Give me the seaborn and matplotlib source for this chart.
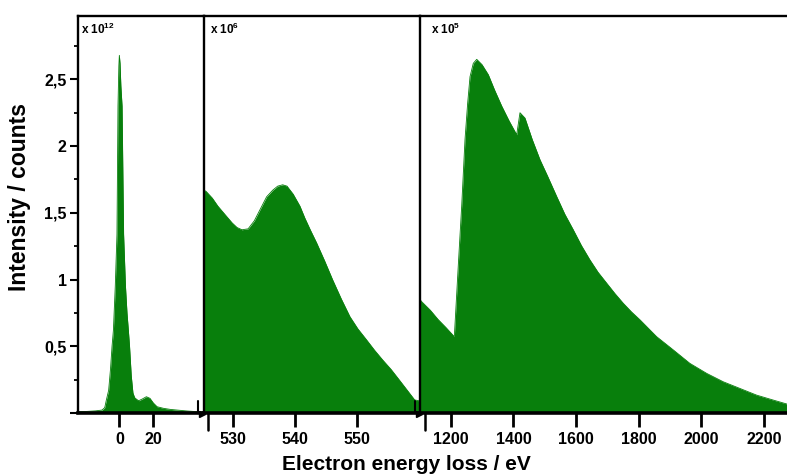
import numpy as np
import pandas as pd
import seaborn as sns
import matplotlib.pyplot as plt
from matplotlib.lines import Line2D
from matplotlib.ticker import MultipleLocator, FuncFormatter

# valores (intensidad en unidades del factor de cada panel)
low_ev = [-24.5, -19, -14, -10.2, -8.6, -7.6, -6.3, -5.2, -4.3, -3.5, -2.4, -1.4, -0.8, -0.3, 0, 0.4,
          0.9, 1.6, 2.5, 3.6, 4.5, 5.3, 6.0, 7.0, 8.0, 9.0, 10.4, 11.4, 13.5, 15.9, 18, 20, 22.2, 26,
          30, 34, 40, 45.7, 49.8]
low_int = [0.010, 0.012, 0.016, 0.022, 0.04, 0.10, 0.17, 0.33, 0.50, 0.62, 0.95, 1.34, 2.30, 2.60, 2.68, 2.62,
           2.45, 2.30, 1.34, 0.95, 0.75, 0.62, 0.50, 0.28, 0.15, 0.115, 0.10, 0.092, 0.105, 0.122, 0.11, 0.075,
           0.047, 0.035, 0.027, 0.022, 0.015, 0.010, 0.008]

ok_ev = [525.25, 525.6, 526.6, 527.5, 528.6, 529.8, 530.6, 531.4, 532.4, 533.4, 534.4, 535.4, 536.4,
         537.2, 538.0, 538.7, 539.7, 540.8, 541.6, 542.5, 543.5, 544.8, 546.1, 547.5, 548.9,
         550.2, 551.6, 552.9, 554.2, 555.6, 556.9, 558.2, 559.4, 560.26]
ok_int = [1.67, 1.66, 1.61, 1.55, 1.49, 1.425, 1.39, 1.373, 1.38, 1.44, 1.53, 1.62, 1.67,
          1.70, 1.71, 1.70, 1.64, 1.55, 1.46, 1.37, 1.275, 1.14, 0.998, 0.855, 0.722,
          0.63, 0.548, 0.47, 0.398, 0.325, 0.248, 0.17, 0.098, 0.09]

hi_ev = [1102, 1107.5, 1135, 1160, 1185, 1211.5, 1224, 1235, 1245.6, 1254, 1261.6, 1272, 1283, 1300,
         1320, 1340, 1362.7, 1386, 1410.5, 1421, 1437, 1460, 1484.8, 1510, 1538, 1564, 1591, 1617,
         1644, 1670, 1697.6, 1724, 1750.6, 1777, 1804, 1857, 1910, 1963,
         2016.6, 2069.6, 2122.8, 2176, 2229, 2273]
hi_int = [0.85, 0.834, 0.77, 0.70, 0.64, 0.572, 1.10, 1.55, 2.05, 2.32, 2.52, 2.62, 2.65, 2.61,
          2.535, 2.42, 2.30, 2.19, 2.085, 2.25, 2.21, 2.05, 1.898, 1.77, 1.623, 1.49, 1.373, 1.255,
          1.148, 1.055, 0.973, 0.895, 0.822, 0.757, 0.698, 0.572, 0.473, 0.372,
          0.297, 0.234, 0.184, 0.134, 0.097, 0.067]

factors = ['x 10$^{12}$', 'x 10$^{6}$', 'x 10$^{5}$']
xlims = [(-24.5, 49.8), (525.25, 560.26), (1102, 2273)]
xticks = [[0, 20], [530, 540, 550], [1200, 1400, 1600, 1800, 2000, 2200]]

sns.set_theme(style='ticks')
plt.rcParams['font.family'] = ['Liberation Sans', 'DejaVu Sans']
plt.rcParams['font.weight'] = 'bold'
plt.rcParams['mathtext.default'] = 'regular'
plt.rcParams['text.color'] = 'black'
plt.rcParams['axes.labelcolor'] = 'black'

verde = '#087f0c'
W, H = 787, 476
fig = plt.figure(figsize=(W / 100, H / 100), dpi=100)

def fx(px):
    return px / W

def fy(py):
    return 1 - py / H

bordes = [(77.7, 204), (204, 420), (420, 787)]
bot, top = fy(413), fy(15.7)
datos = [(low_ev, low_int), (ok_ev, ok_int), (hi_ev, hi_int)]

axes = []
for i, ((l, r), (xs, ys)) in enumerate(zip(bordes, datos)):
    ax = fig.add_axes([fx(l), bot, fx(r) - fx(l), top - bot])
    df = pd.DataFrame({'eV': xs, 'I': ys})
    ax.fill_between(df['eV'], 0, df['I'], color=verde, linewidth=0)
    sns.lineplot(data=df, x='eV', y='I', ax=ax, color=verde, linewidth=0.6)
    ax.set_xlim(*xlims[i])
    ax.set_ylim(0, 2.977)
    ax.set_xticks(xticks[i])
    ax.set_xlabel('')
    ax.set_ylabel('')
    for s in ['left', 'top', 'bottom']:
        ax.spines[s].set_linewidth(1.7)
        ax.spines[s].set_color('black')
    ax.spines['bottom'].set_linewidth(2.6)
    ax.spines['right'].set_visible(False)
    ax.tick_params(axis='x', direction='out', length=10, width=2.0, pad=3.5,
                   labelsize=11.5, colors='black')
    if i == 0:
        ax.yaxis.set_major_locator(MultipleLocator(0.5))
        ax.yaxis.set_minor_locator(MultipleLocator(0.25))
        ax.yaxis.set_major_formatter(FuncFormatter(
            lambda v, p: '' if v == 0 else ('%g' % v).replace('.', ',')))
        ax.tick_params(axis='y', which='major', length=6, width=1.5, pad=2,
                       labelsize=11.5, colors='black')
        ax.tick_params(axis='y', which='minor', length=3, width=1.3, colors='black')
    else:
        ax.tick_params(axis='y', left=False, labelleft=False)
    ax.text(0.03, 0.985, factors[i], transform=ax.transAxes, ha='left', va='top',
            fontsize=8.5, fontweight='bold', color='black')
    axes.append(ax)

# marcas de corte del eje x
for up, down in [(198.3, 208.3), (415, 425)]:
    fig.add_artist(Line2D([fx(up), fx(up)], [fy(400.5), fy(413)], color='black', lw=1.5))
    fig.add_artist(Line2D([fx(down), fx(down)], [fy(413), fy(430)], color='black', lw=1.8))
    fig.add_artist(Line2D([fx(up + 3.5)], [fy(414)], color='black', marker='>',
                          markersize=5, linestyle='none'))

fig.text(fx(406.7), fy(465), 'Electron energy loss / eV', ha='center', va='center',
         fontsize=15, fontweight='bold', color='black')
fig.text(fx(20), fy(197), 'Intensity / counts', ha='center', va='center', rotation=90,
         fontsize=16.5, fontweight='bold', color='black')

fig.savefig('out.png', dpi=100)
